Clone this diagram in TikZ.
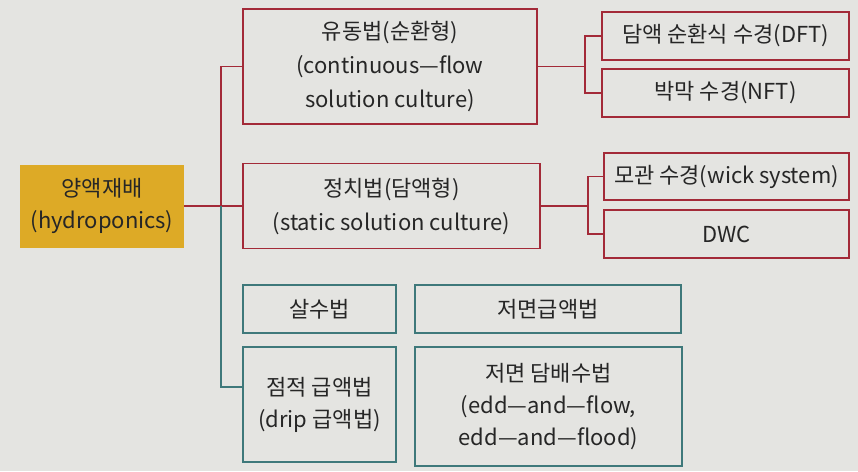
\documentclass[tikz,border=0pt]{standalone}
\usepackage{fontspec}
\setmainfont{Noto Sans CJK KR}
\usepackage{xcolor}
\usepackage{tikz}
\usetikzlibrary{positioning, calc}

\definecolor{pagebg}{RGB}{228,228,225}
\definecolor{rootfill}{RGB}{221,170,38}
\definecolor{flowred}{RGB}{163,42,56}
\definecolor{soilteal}{RGB}{62,120,122}
\definecolor{inkgray}{RGB}{38,38,38}

\begin{document}
\begin{tikzpicture}[x=1pt, y=-1pt,
        root/.style={rectangle, fill=rootfill, align=center, text=inkgray, inner sep=0pt, font={\fontsize{22}{32}\selectfont}},
        method/.style={rectangle, draw=flowred, line width=1.8pt, align=center, text=inkgray, inner sep=0pt, font={\fontsize{22}{34}\selectfont}},
        other/.style={rectangle, draw=soilteal, line width=1.8pt, align=center, text=inkgray, inner sep=0pt, font={\fontsize{22}{32}\selectfont}},
        redline/.style={draw=flowred, line width=1.8pt},
        tealline/.style={draw=soilteal, line width=1.8pt}
    ]
        \fill [pagebg] (0, 0) rectangle (858, 471);
        \useasboundingbox (0, 0) rectangle (858, 471);

        % Root (Left)
        \node (root) [root, minimum width=164pt, minimum height=83pt] at (102, 206) {양액재배\\(hydroponics)};

        % Middle Column (Methods)
        \node (flow) [method, minimum width=294pt, minimum height=115pt] at (390, 66.5) {유동법(순환형)\\(continuous—flow\\solution culture)};
        \node (static) [method, minimum width=297pt, minimum height=85pt] at (391.5, 206) {정치법(담액형)\\(static solution culture)};

        % Right Column (Systems)
        \node (dft) [method, minimum width=247pt, minimum height=48pt] at (725.5, 36) {담액 순환식 수경(DFT)};
        \node (nft) [method, minimum width=247pt, minimum height=48pt] at (725.5, 93) {박막 수경(NFT)};
        \node (wick) [method, minimum width=245pt, minimum height=47pt] at (726.5, 176.5) {모관 수경(wick system)};
        \node (dwc) [method, minimum width=245pt, minimum height=48pt] at (726.5, 234) {DWC};

        % Bottom Rows (Other methods)
        \node (spray) [other, minimum width=153pt, minimum height=48pt] at (319.5, 309) {살수법};
        \node (subirr) [other, minimum width=266pt, minimum height=48pt] at (548, 309) {저면급액법};
        \node (drip) [other, minimum width=153pt, minimum height=115pt] at (319.5, 404.5) {점적 급액법\\(drip 급액법)};
        \node (ebb) [other, minimum width=267pt, minimum height=119pt] at (548.5, 406.5) {저면 담배수법\\(edd—and—flow,\\edd—and—flood)};

        % Flows - Root
        \coordinate (trunk) at (221, 206);
        \draw [redline] (root) -- (static);
        \draw [redline] (flow.west) -| (trunk);
        \draw [tealline] (trunk) |- ([yshift=17.5pt]drip.west);

        % Flows - Systems
        \draw [redline] (flow.east) -- ++(47, 0) coordinate (fork1);
        \draw [redline] (dft.west) -| (fork1) |- (nft.west);
        \draw [redline] (static.east) -- ++(47, 0) coordinate (fork2);
        \draw [redline] (wick.west) -| (fork2) |- (dwc.west);
    \end{tikzpicture}
\end{document}
